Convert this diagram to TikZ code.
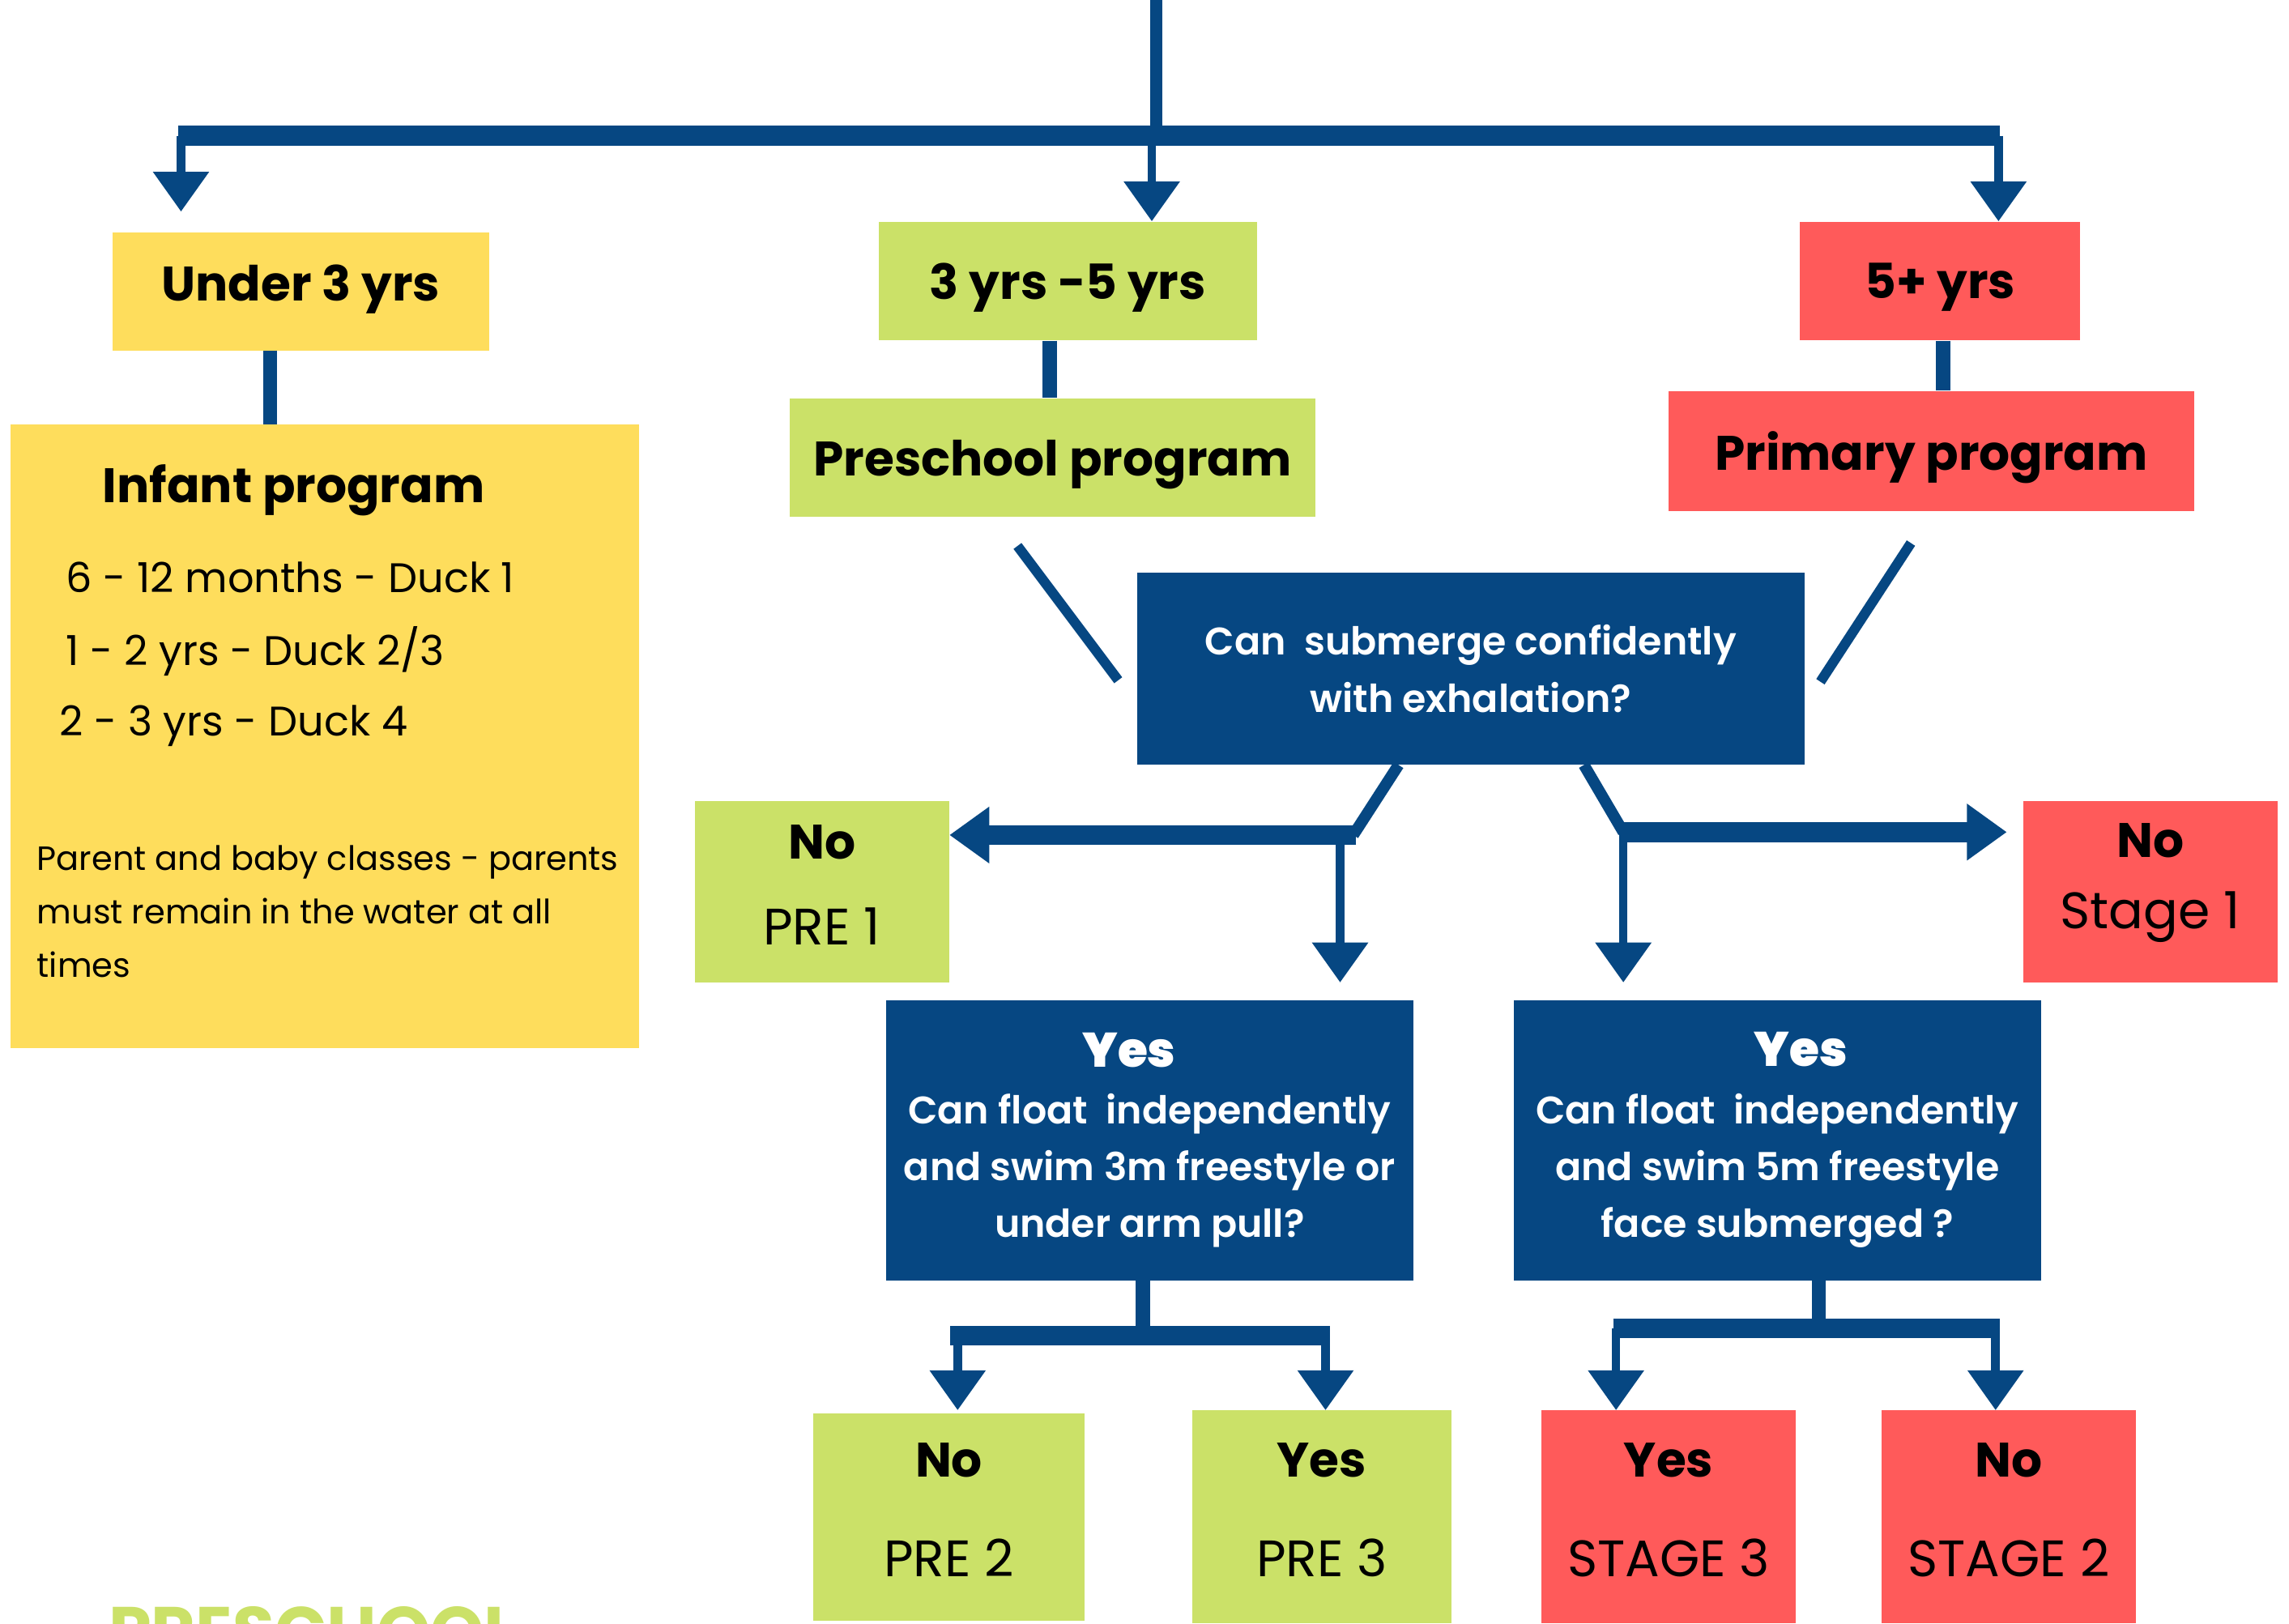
\documentclass[tikz,border=0pt]{standalone}
\usepackage{fontspec}
\setmainfont{Poppins}
\IfFontExistsTF{Poppins SemiBold}
    {\newfontfamily\semifont{Poppins SemiBold}}
    {\newcommand{\semifont}{\bfseries}}
\usetikzlibrary{arrows.meta}
\usetikzlibrary{positioning}
\definecolor{mnavy}{HTML}{064782}
\definecolor{myellow}{HTML}{FEDD5C}
\definecolor{mgreen}{HTML}{CBE168}
\definecolor{mred}{HTML}{FF5A5A}
\newcommand{\pxl}{0.018023cm}
\newcommand{\headfont}{\fontsize{17}{20}\selectfont\bfseries}
\newcommand{\bodyfont}{\fontsize{14.5}{18}\selectfont}
\newcommand{\askfont}{\fontsize{13.5}{20}\selectfont\semifont}
\tikzset{
    box/.style 2 args={inner sep=0pt, minimum width={#1*\pxl}, minimum height={#2*\pxl}, align=center},
    bar/.style={mnavy, line width=7pt},
    stem/.style={mnavy, line width=5pt},
    slash/.style={mnavy, line width=3.5pt},
    arr/.style={mnavy, line width=3pt, -{Triangle[width=19pt, length=14pt]}},
    bigarr/.style={mnavy, line width=7pt, -{Triangle[width=19pt, length=14pt]}}
}

\begin{document}
\begin{tikzpicture}[x=0.018023cm, y=-0.018023cm]
    \useasboundingbox (0, 0) rectangle (1568, 1112);
    \clip (0, 0) rectangle (1568, 1112);

    % age groups
    \node [box={258}{81}, fill=myellow, font=\headfont, text depth=6pt] (under) at (206, 199.5) {Under 3 yrs};
    \node [box={259}{81}, fill=mgreen, font=\headfont, text depth=0pt] (threefive) at (731.5, 192.5) {3 yrs -5 yrs};
    \node [box={192}{81}, fill=mred, font=\headfont, text depth=0pt] (fiveplus) at (1329, 192.5) {5+ yrs};

    % programs
    \node [box={431}{427}, fill=myellow] (infant) at (222.5, 504.5) {};
    \node [box={360}{81}, fill=mgreen, font=\headfont, text depth=0pt] (preschool) at (721, 313.5) {Preschool program};
    \node [box={360}{82}, fill=mred, font=\headfont, text depth=0pt] (primary) at (1323, 309) {Primary program};

    \node [anchor=base west, inner sep=0pt, font=\headfont] (infanthead) at (70, 344.5) {Infant program};
    \node [anchor=base west, inner sep=0pt, font=\bodyfont] (duckone) at (45, 406) {6 - 12 months - Duck 1};
    \node [anchor=base west, inner sep=0pt, font=\bodyfont] (ducktwo) at (45, 455.7) {1 - 2 yrs - Duck 2/3};
    \node [anchor=base west, inner sep=0pt, font=\bodyfont] (duckfour) at (40.5, 504) {2 - 3 yrs - Duck 4};
    \node [anchor=base west, inner sep=0pt, align=left, font=\fontsize{11.8}{18.8}\selectfont] (parents) at (25, 669.6)
        {Parent and baby classes - parents\\must remain in the water at all\\times};

    % first question
    \node [box={457}{132}, fill=mnavy, text=white, font=\askfont] (submerge) at (1007.5, 458)
        {Can~ submerge confidently\\with exhalation?};

    \node [box={174}{124}, fill=mgreen, font=\fontsize{18}{30}\selectfont, text depth=5pt] (preone) at (563, 611)
        {{\headfont No}\\PRE 1};
    \node [box={174}{124}, fill=mred, font=\fontsize{18}{25}\selectfont, text depth=11pt] (stageone) at (1473, 611)
        {{\headfont No}\\Stage 1};

    % second questions
    \node [box={361}{192}, fill=mnavy, text=white, font=\askfont] (floatpre) at (787.5, 781)
        {\hspace*{-14.4pt}{\headfont Yes}\\Can float~ independently\\and swim 3m freestyle or\\under arm pull?};
    \node [box={361}{192}, fill=mnavy, text=white, font=\askfont] (floatprim) at (1217.5, 781)
        {\hspace*{16.4pt}{\headfont Yes}\\Can float~ independently\\and swim 5m freestyle\\face submerged ?};

    % outcomes
    \node [box={186}{142}, fill=mgreen, font=\fontsize{18}{35}\selectfont, text depth=5pt] (pretwo) at (650, 1039)
        {{\headfont No}\\PRE 2};
    \node [box={177}{146}, fill=mgreen, font=\fontsize{18}{35}\selectfont, text depth=5pt] (prethree) at (905.5, 1039)
        {{\headfont Yes}\\PRE 3};
    \node [box={174}{146}, fill=mred, font=\fontsize{18}{35}\selectfont, text depth=5pt] (stagethree) at (1143, 1039)
        {{\headfont Yes}\\STAGE 3};
    \node [box={174}{146}, fill=mred, font=\fontsize{18}{35}\selectfont, text depth=5pt] (stagetwo) at (1376, 1039)
        {{\headfont No}\\STAGE 2};

    \node [anchor=base west, inner sep=0pt, text=mgreen, font=\fontsize{24}{28}\selectfont\bfseries] (title) at (74, 1134) {PRESCHOOL};

    % top split
    \coordinate (start) at (792, 0);
    \coordinate (split) at (792, 93);
    \coordinate (splitl) at (124, 93);
    \coordinate (splitm) at (789, 93);
    \coordinate (splitr) at (1369, 93);

    \draw [stem, line width=4.5pt] (start) -- (split);
    \draw [bar] (122, 93) -- (1370, 93);
    \draw [arr, shorten >=7pt] (splitl) -- (splitl |- under.north);
    \draw [arr] (splitm) -- (splitm |- threefive.north);
    \draw [arr] (splitr) -- (splitr |- fiveplus.north);

    \draw [stem] (185, 240) -- (185, 291);
    \draw [stem] (threefive.south -| 719, 0) -- (preschool.north -| 719, 0);
    \draw [stem] (fiveplus.south -| 1331, 0) -- (primary.north -| 1331, 0);

    \draw [slash] (697, 374) -- (766, 466);
    \draw [slash] (1309, 372) -- (1247, 467);

    % first answers
    \coordinate (noleft) at (927, 572);
    \coordinate (noright) at (1112, 570);

    \draw [slash, line width=4pt] (958, 524) -- (noleft);
    \draw [slash, line width=4pt] (1085, 524) -- (noright);
    \draw [bigarr] ([xshift=1pt]noleft) -- (noleft -| preone.east);
    \draw [bigarr, shorten >=5.6pt] ([xshift=-1pt]noright) -- (noright -| stageone.west);
    \draw [arr] (918, 572) -- (918, 673);
    \draw [arr] (noright) -- (1112, 673);

    % second answers
    \coordinate (forkl) at (783, 915);
    \coordinate (forkr) at (1246, 910);

    \draw [stem] (floatpre.south -| forkl) -- (forkl);
    \draw [bar] (651, 915) -- (911, 915);
    \draw [arr] (656, 915) -- (656, 966);
    \draw [arr] (908, 915) -- (908, 966);

    \draw [stem] (floatprim.south -| forkr) -- (forkr);
    \draw [bar] (1105, 910) -- (1370, 910);
    \draw [arr] (1107, 910) -- (1107, 966);
    \draw [arr] (1367, 910) -- (1367, 966);
\end{tikzpicture}
\end{document}
